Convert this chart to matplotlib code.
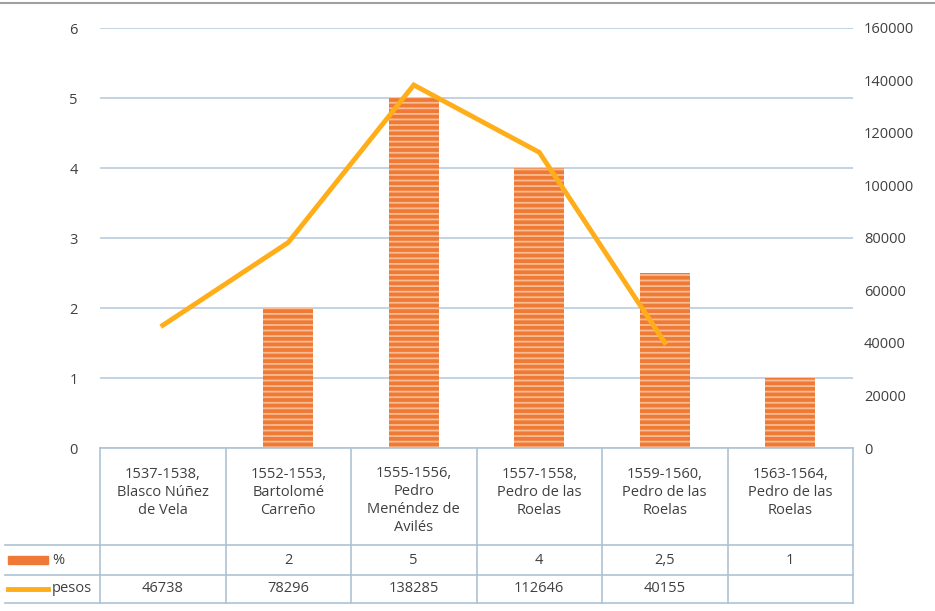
import matplotlib
matplotlib.use("Agg")
import matplotlib.pyplot as plt
from matplotlib.lines import Line2D
from matplotlib.patches import Rectangle
import numpy as np

categories = ["1537-1538,\nBlasco Núñez\nde Vela",
              "1552-1553,\nBartolomé\nCarreño",
              "1555-1556,\nPedro\nMenéndez de\nAvilés",
              "1557-1558,\nPedro de las\nRoelas",
              "1559-1560,\nPedro de las\nRoelas",
              "1563-1564,\nPedro de las\nRoelas"]
pct = [None, 2, 5, 4, 2.5, 1]
pct_labels = ["", "2", "5", "4", "2,5", "1"]
pesos = [46738, 78296, 138285, 112646, 40155, None]
pesos_labels = ["46738", "78296", "138285", "112646", "40155", ""]
left_ticks = [0, 1, 2, 3, 4, 5, 6]
right_ticks = [0, 20000, 40000, 60000, 80000, 100000, 120000, 140000, 160000]

plt.rcParams['font.family'] = ['Open Sans', 'DejaVu Sans']
W, H = 935, 611
fig = plt.figure(figsize=(W / 100, H / 100), dpi=100)
x0, x1, y0, y1 = 100, 853, 448, 28
ax = fig.add_axes([x0 / W, 1 - y0 / H, (x1 - x0) / W, (y0 - y1) / H])
ax2 = ax.twinx()

bar_col = "#EF7A36"
stripe_col = "#F8BC94"
line_col = "#FFAE1A"
grid_col = "#B9CCDD"
text_col = "#404040"

n = len(categories)
xs = np.arange(n)
bx = [x for x, v in zip(xs, pct) if v is not None]
bv = [v for v in pct if v is not None]
plt.rcParams['hatch.linewidth'] = 1.3
ax.bar(bx, bv, width=0.4, color=bar_col, edgecolor=stripe_col, hatch="---", linewidth=0, zorder=3)
ax.set_xlim(-0.5, n - 0.5)
ax.set_ylim(0, 6)
ax.set_yticks(left_ticks)
ax.set_yticklabels([str(t) for t in left_ticks])
ax.yaxis.grid(True, color=grid_col, linewidth=1.2, zorder=0)
ax.set_axisbelow(True)

lx = [x for x, v in zip(xs, pesos) if v is not None]
lv = [v for v in pesos if v is not None]
ax2.plot(lx, lv, color=line_col, linewidth=3.5, solid_joinstyle="miter", zorder=4)
ax2.set_ylim(0, 160000)
ax2.set_yticks(right_ticks)
ax2.set_yticklabels([str(t) for t in right_ticks])

for a in (ax, ax2):
    for s in a.spines.values():
        s.set_visible(False)
    a.tick_params(length=0, labelsize=10.5, colors=text_col)
ax.tick_params(axis="y", pad=16)
ax2.tick_params(axis="y", pad=8)
ax.set_xticks([])

# Table
tcol = "#AEC2D4"
rows = [448, 545, 575, 603]
colx = [x0 + (x1 - x0) * i / n for i in range(n + 1)]
def L(xa, ya, xb, yb):
    fig.add_artist(Line2D([xa / W, xb / W], [1 - ya / H, 1 - yb / H], color=tcol, linewidth=1.2))
L(x0, rows[0], x1, rows[0])
for r in rows[1:]:
    L(5, r, x1, r)
for c in colx:
    L(c, rows[0], c, rows[-1])
for i in range(n):
    cx = (colx[i] + colx[i + 1]) / 2
    cy = (rows[0] + rows[1]) / 2 + (4 if categories[i].count("\n") == 3 else -4)
    fig.text(cx / W, 1 - cy / H, categories[i], ha="center", va="center", fontsize=10.5,
             color=text_col, linespacing=1.3)
    fig.text(cx / W, 1 - ((rows[1] + rows[2]) / 2) / H, pct_labels[i], ha="center", va="center",
             fontsize=10.5, color=text_col)
    fig.text(cx / W, 1 - ((rows[2] + rows[3]) / 2) / H, pesos_labels[i], ha="center", va="center",
             fontsize=10.5, color=text_col)
# legend keys
fig.add_artist(Rectangle((8 / W, 1 - 564 / H), 40 / W, 8 / H, color=bar_col))
fig.text(52 / W, 1 - 560 / H, "%", ha="left", va="center", fontsize=10.5, color=text_col)
fig.add_artist(Line2D([8 / W, 48 / W], [1 - 589 / H, 1 - 589 / H], color=line_col, linewidth=3.5))
fig.text(52 / W, 1 - 589 / H, "pesos", ha="left", va="center", fontsize=10.5, color=text_col)

# top frame line
fig.add_artist(Line2D([0, 1], [1 - 3 / H, 1 - 3 / H], color="#A0A0A0", linewidth=1.5))

fig.savefig("out.png", dpi=100)
